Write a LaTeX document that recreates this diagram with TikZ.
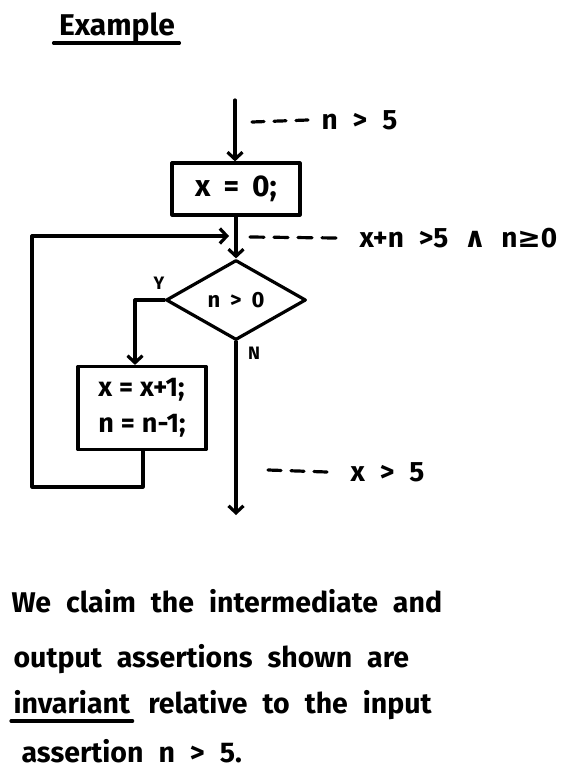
\documentclass[tikz,border=0pt]{standalone}
\usepackage{fontspec}
\setmainfont{Fira Sans}
\newfontfamily\symbolfont{DejaVu Sans}
\usetikzlibrary{arrows.meta,positioning,shapes.geometric}
\newcommand\handspacing{\spaceskip=15pt plus 2pt minus 2pt\relax}
\newcommand\labelspacing[1]{\spaceskip=#1 plus 1pt minus 1pt\relax}

\begin{document}
\begin{tikzpicture}[x=1pt,y=-1pt,>={Straight Barb[length=7pt,width=15pt]},
  line width=3.2pt,line cap=round,line join=round,
  stmt/.style={draw,inner sep=0pt,minimum width=128pt,font=\fontsize{27}{36}\selectfont\bfseries\labelspacing{7pt}},
  test/.style={draw,diamond,inner sep=0pt,minimum width=140pt,minimum height=80pt,font=\fontsize{22}{26}\selectfont\bfseries\labelspacing{10pt}},
  assert/.style={dash pattern=on 12pt off 10pt},
  cond/.style={anchor=west,inner sep=0pt,font=\fontsize{28}{30}\selectfont\bfseries\labelspacing{15pt}},
  branch/.style={inner sep=0pt,font=\fontsize{18}{20}\selectfont\bfseries},
  prose/.style={anchor=base west,inner sep=0pt,font=\fontsize{28.5}{32}\selectfont\bfseries\handspacing}]
  \useasboundingbox (0,0) rectangle (587,773);
  % title
  \node[inner sep=0pt,font=\fontsize{30}{36}\selectfont\bfseries] (title) at (117,27) {Example};
  \draw ([xshift=-4pt,yshift=-8pt]title.base west) -- ([xshift=3pt,yshift=-8pt]title.base east);
  % flowchart
  \coordinate (in) at (235,100);
  \node[stmt,minimum height=52pt,font=\fontsize{30}{36}\selectfont\bfseries\labelspacing{13pt}] (init) at (236,189) {x = 0;};
  \coordinate (join) at (235,236);
  \node[test] (test) at (236,300) {n > 0};
  \node[stmt,minimum height=83pt,align=left] (body) at (142,408) {x = x+1;\\n = n-1;};
  \coordinate (loop) at (32,487);
  \coordinate (out) at (236,515);
  \draw[->] (in) -- (in |- init.north);
  \draw[->] (init) -- (test);
  \draw[->] (test.west) -| ([xshift=-7pt]body.north);
  \draw[->] (test) -- (out);
  \draw[->] ([xshift=1pt]body.south) |- (loop) |- ([xshift=-6pt]join);
  \node[branch] (yes) at (159,283) {Y};
  \node[branch] (no) at (254,353) {N};
  % assertions
  \coordinate (a1) at (252,122);
  \node[cond] (pre) at (320,120) {n > 5};
  \draw[assert] (a1) -- ([xshift=-12pt]pre.west);
  \coordinate (a2) at (250,237);
  \node[cond] (inv) at (358,238) {x+n >5 {\symbolfont ∧} n{\symbolfont ≥}0};
  \draw[assert,dash pattern=on 14pt off 10pt] (a2) -- ([xshift=-22pt]inv.west);
  \coordinate (a3) at (268,470);
  \node[cond] (post) at (349,472) {x > 5};
  \draw[assert,dash pattern=on 13pt off 10pt] (a3) -- ([xshift=-22pt]post.west);
  % remark
  \node[prose] (l1) at (10,612) {We claim the intermediate and};
  \node[prose] (l2) at (12,667) {output assertions shown are};
  \node[prose] (w3) at (12,713) {invariant};
  \node[prose,anchor=base west] (l3) at ([xshift=15pt]w3.base east) {relative to the input};
  \draw ([xshift=-1pt,yshift=-8pt]w3.base west) -- ([xshift=1pt,yshift=-8pt]w3.base east);
  \node[prose] (l4) at (20,762) {assertion n > 5.};
\end{tikzpicture}
\end{document}
